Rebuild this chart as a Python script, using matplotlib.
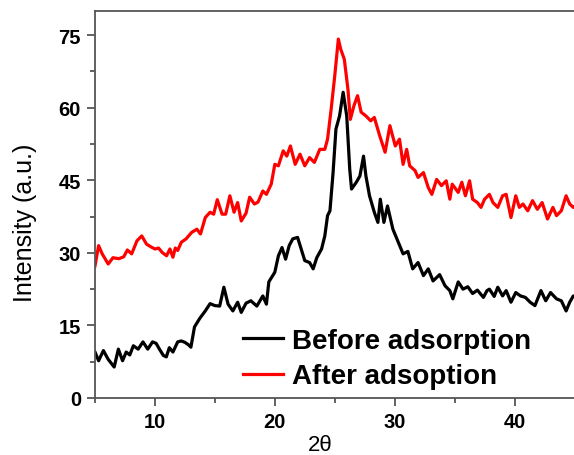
import matplotlib
matplotlib.use("Agg")
import matplotlib.pyplot as plt
from matplotlib.ticker import MultipleLocator

plt.rcParams['font.family'] = ['Liberation Sans', 'DejaVu Sans']

# ---- data ----
before_x = [5.0, 5.3, 5.7, 6.1, 6.6, 6.95, 7.3, 7.6, 7.9, 8.2, 8.6, 9.0, 9.4, 9.8, 10.1, 10.4,
            10.7, 10.95, 11.2, 11.5, 11.9, 12.2, 12.5, 12.8, 13.0, 13.3, 13.75, 14.2, 14.6, 15.0,
            15.4, 15.75, 16.1, 16.5, 16.9, 17.2, 17.6, 18.0, 18.5, 19.0, 19.3, 19.5, 20.0, 20.3,
            20.6, 20.9, 21.2, 21.5, 21.9, 22.2, 22.5, 22.9, 23.2, 23.5, 23.9, 24.17, 24.4, 24.6,
            24.86, 25.1, 25.4, 25.7, 26.0, 26.25, 26.4, 26.8, 27.1, 27.4, 27.6, 27.9, 28.3, 28.6,
            28.8, 29.1, 29.4, 29.85, 30.3, 30.7, 31.1, 31.5, 31.95, 32.4, 32.8, 33.2, 33.75, 34.2,
            34.6, 34.85, 35.3, 35.7, 36.1, 36.5, 36.9, 37.4, 37.7, 37.9, 38.3, 38.6, 39.0, 39.3,
            39.7, 40.1, 40.5, 40.9, 41.3, 41.7, 42.2, 42.6, 43.0, 43.5, 43.9, 44.3, 44.6, 44.9, 45.0]
before_y = [9.5, 7.7, 9.8, 8.0, 6.4, 10.1, 7.7, 9.5, 8.9, 10.8, 10.1, 11.6, 10.1, 11.6, 11.3, 10.0,
            8.8, 8.5, 10.4, 9.5, 11.6, 11.8, 11.5, 11.0, 10.5, 14.7, 16.5, 18.0, 19.5, 19.1,
            19.0, 22.9, 19.4, 18.0, 19.8, 17.7, 19.6, 20.1, 19.0, 21.1, 19.4, 24.0, 26.0, 29.4,
            31.1, 28.7, 31.5, 32.9, 33.2, 30.8, 28.4, 28.0, 26.7, 29.0, 30.8, 33.5, 37.7, 38.7,
            46.6, 55.6, 58.3, 63.2, 58.3, 47.3, 43.2, 44.6, 45.9, 50.0, 45.9, 41.8, 38.4, 36.3,
            41.1, 36.3, 39.7, 34.9, 32.2, 29.8, 30.3, 26.7, 28.0, 25.3, 26.7, 24.2, 25.5, 23.2,
            22.2, 20.5, 24.0, 22.5, 23.0, 21.6, 22.3, 20.8, 22.2, 22.5, 21.0, 22.9, 21.1, 22.2,
            19.8, 21.8, 21.1, 20.8, 19.8, 19.1, 22.2, 20.1, 21.8, 20.5, 20.1, 18.0, 19.8, 21.1, 21.0]

after_x = [5.0, 5.3, 5.6, 6.1, 6.5, 7.0, 7.4, 7.7, 8.06, 8.5, 8.9, 9.3, 9.7, 10.0, 10.3, 10.6,
           10.97, 11.25, 11.5, 11.7, 11.9, 12.2, 12.6, 13.05, 13.5, 13.8, 14.2, 14.6, 14.9, 15.2,
           15.6, 15.9, 16.25, 16.6, 16.9, 17.2, 17.6, 17.9, 18.3, 18.6, 19.0, 19.3, 19.7, 20.0,
           20.3, 20.7, 21.0, 21.3, 21.7, 22.1, 22.5, 22.9, 23.3, 23.75, 24.17, 24.4, 24.7, 25.0,
           25.3, 25.5, 25.8, 26.1, 26.3, 26.6, 26.9, 27.2, 27.6, 28.0, 28.3, 28.75, 29.2, 29.6,
           30.05, 30.4, 30.7, 31.0, 31.25, 31.7, 31.95, 32.4, 32.8, 33.1, 33.5, 33.9, 34.3, 34.6,
           34.8, 35.3, 35.6, 35.9, 36.25, 36.5, 36.9, 37.2, 37.5, 37.9, 38.2, 38.6, 39.0, 39.3,
           39.7, 40.1, 40.4, 40.7, 41.1, 41.5, 41.9, 42.3, 42.75, 43.2, 43.5, 43.9, 44.3, 44.6,
           44.9, 45.0]
after_y = [27.3, 31.5, 29.8, 27.7, 29.0, 28.8, 29.2, 30.6, 29.8, 32.5, 33.5, 31.8, 31.2, 30.8, 31.0, 30.1,
           29.4, 30.8, 29.1, 31.0, 30.5, 32.2, 32.9, 34.2, 34.9, 33.9, 37.3, 38.4, 38.0, 41.0,
           38.0, 38.0, 41.8, 38.4, 40.4, 36.6, 38.2, 41.5, 40.1, 40.5, 42.8, 42.1, 44.2, 48.3,
           48.0, 51.1, 50.0, 52.1, 48.3, 50.4, 48.0, 49.7, 48.7, 51.4, 51.4, 53.5, 59.7, 66.6,
           74.2, 72.1, 70.0, 63.8, 57.6, 60.4, 62.5, 59.1, 58.3, 57.3, 58.0, 54.2, 50.8, 56.3,
           52.1, 53.5, 48.3, 51.4, 48.0, 47.0, 45.6, 46.6, 43.5, 42.1, 45.2, 43.9, 44.9, 41.1,
           44.2, 42.5, 44.6, 41.8, 44.9, 41.1, 40.4, 39.4, 41.1, 42.1, 40.4, 39.4, 41.8, 42.1,
           37.3, 41.8, 39.4, 40.1, 38.7, 40.8, 39.0, 40.4, 37.0, 39.4, 37.7, 38.7, 41.8, 40.1,
           39.4, 39.5]

labels = ["Before adsorption", "After adsoption"]
colors = ["#000000", "#ff0000"]
x_ticks = [10, 20, 30, 40]
y_ticks = [0, 15, 30, 45, 60, 75]

fig = plt.figure(figsize=(5.74, 4.56), dpi=100)
ax = fig.add_axes([95/574, 57/456, 479.5/574, 387/456])

ax.plot(before_x, before_y, color=colors[0], lw=2.3, label=labels[0])
ax.plot(after_x, after_y, color=colors[1], lw=2.3, label=labels[1])

ax.set_xlim(5, 45)
ax.set_ylim(0, 80)
ax.set_xticks(x_ticks)
ax.set_yticks(y_ticks)
ax.xaxis.set_minor_locator(MultipleLocator(5))
ax.yaxis.set_minor_locator(MultipleLocator(7.5))

for s in ax.spines.values():
    s.set_color('#555555')
    s.set_linewidth(1.3)

ax.tick_params(which='major', direction='out', length=6, width=1.3, color='#555555',
               labelsize=14.5, pad=4)
ax.tick_params(which='minor', direction='out', length=3.5, width=1.3, color='#555555')
for lab in ax.get_xticklabels() + ax.get_yticklabels():
    lab.set_fontweight('bold')

ax.set_xlabel("2θ", fontsize=16)
ax.xaxis.set_label_coords(0.469, -0.092)
ax.set_ylabel("Intensity (a.u.)", fontsize=18)
ax.yaxis.set_label_coords(-0.121, 0.455)

leg = ax.legend(loc='center left', bbox_to_anchor=(0.308, 0.102), frameon=False,
                prop={'weight': 'bold', 'size': 20}, handlelength=1.45,
                handletextpad=0.33, labelspacing=0.35, borderpad=0, borderaxespad=0)

fig.savefig("out.png", dpi=100)
